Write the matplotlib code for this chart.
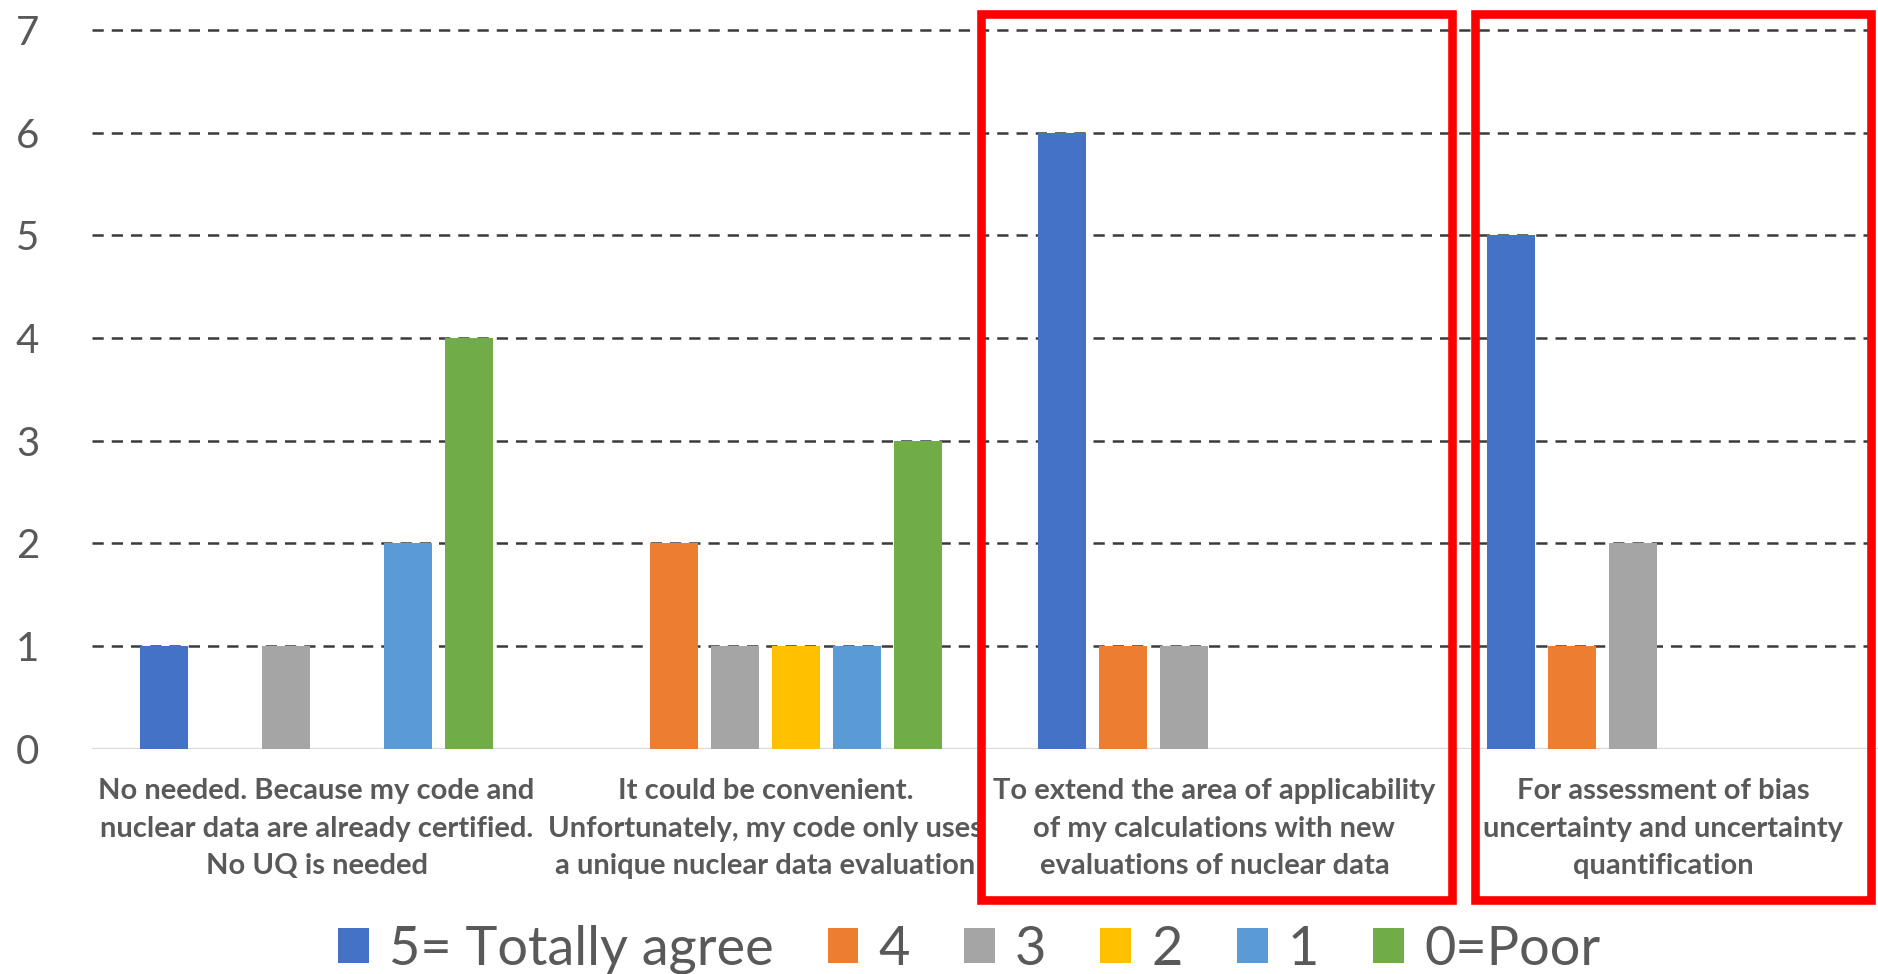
import matplotlib
matplotlib.use("Agg")
import matplotlib.pyplot as plt
import matplotlib.transforms as mtransforms
from matplotlib.patches import Rectangle
import numpy as np

# categories (x axis), one label per question answer
categories = [
    "No needed. Because my code and\nnuclear data are already certified.\nNo UQ is needed",
    "It could be convenient.\nUnfortunately, my code only uses\na unique nuclear data evaluation",
    "To extend the area of applicability\nof my calculations with new\nevaluations of nuclear data",
    "For assessment of bias\nuncertainty and uncertainty\nquantification",
]

# series = agreement scores
series_names = ["5= Totally agree", "4", "3", "2", "1", "0=Poor"]
score_5 = [1, 0, 6, 5]
score_4 = [0, 2, 1, 1]
score_3 = [1, 1, 1, 2]
score_2 = [0, 1, 0, 0]
score_1 = [2, 1, 0, 0]
score_0 = [4, 3, 0, 0]
y_ticks = [0, 1, 2, 3, 4, 5, 6, 7]

# red highlight boxes, (left, right) in category units
highlight_spans = [(1.48, 2.529), (2.58, 3.462)]

colors = ["#4472C4", "#ED7D31", "#A5A5A5", "#FFC000", "#5B9BD5", "#70AD47"]
text_grey = "#595959"
font = ["Lato", "DejaVu Sans"]

plt.rcParams["font.family"] = font

fig = plt.figure(figsize=(18.78, 9.74), dpi=100)
ax = fig.add_axes([0.049, 0.2314, 0.951, 0.7378])

x = np.arange(len(categories))
step = 0.136
width = 0.106
all_series = [score_5, score_4, score_3, score_2, score_1, score_0]
handles = []
for i, vals in enumerate(all_series):
    offset = (i - 2.5) * step
    b = ax.bar(x + offset, vals, width, color=colors[i], label=series_names[i], zorder=3)
    handles.append(b)

ax.set_xlim(-0.5, 3.478)
ax.set_ylim(0, 7)

# dashed gridlines, solid light baseline at zero
ax.hlines(y_ticks[1:], -0.5, 3.478, colors="#3a3a3a", linewidth=1.8,
          linestyles=(0, (4.5, 3.2)), zorder=2, clip_on=False)
ax.axhline(0, color="#d9d9d9", linewidth=1.6, zorder=2)

for s in ax.spines.values():
    s.set_visible(False)

ax.set_yticks(y_ticks)
ax.set_yticklabels([str(t) for t in y_ticks], fontsize=29, color=text_grey)
ax.tick_params(axis="y", length=0, pad=38)

ax.set_xticks(x)
ax.set_xticklabels(categories, fontsize=21, color=text_grey, linespacing=1.54,
                   fontweight="bold")
ax.tick_params(axis="x", length=0, pad=21.5)

# red boxes: x in data units, y in figure units
trans = mtransforms.blended_transform_factory(ax.transData, fig.transFigure)
for x0, x1 in highlight_spans:
    rect = Rectangle((x0, 0.076), x1 - x0, 0.9096, transform=trans, fill=False,
                     edgecolor="#FF0000", linewidth=6.2, clip_on=False, zorder=5)
    fig.add_artist(rect)

leg = fig.legend(handles=handles, labels=series_names, loc="center",
                 bbox_to_anchor=(0.516, 0.025), ncol=6, frameon=False,
                 fontsize=39, handlelength=0.57, handleheight=0.62,
                 handletextpad=0.37, columnspacing=1.0, borderpad=0, borderaxespad=0)
for t in leg.get_texts():
    t.set_color(text_grey)

fig.savefig("out.png", dpi=100)
